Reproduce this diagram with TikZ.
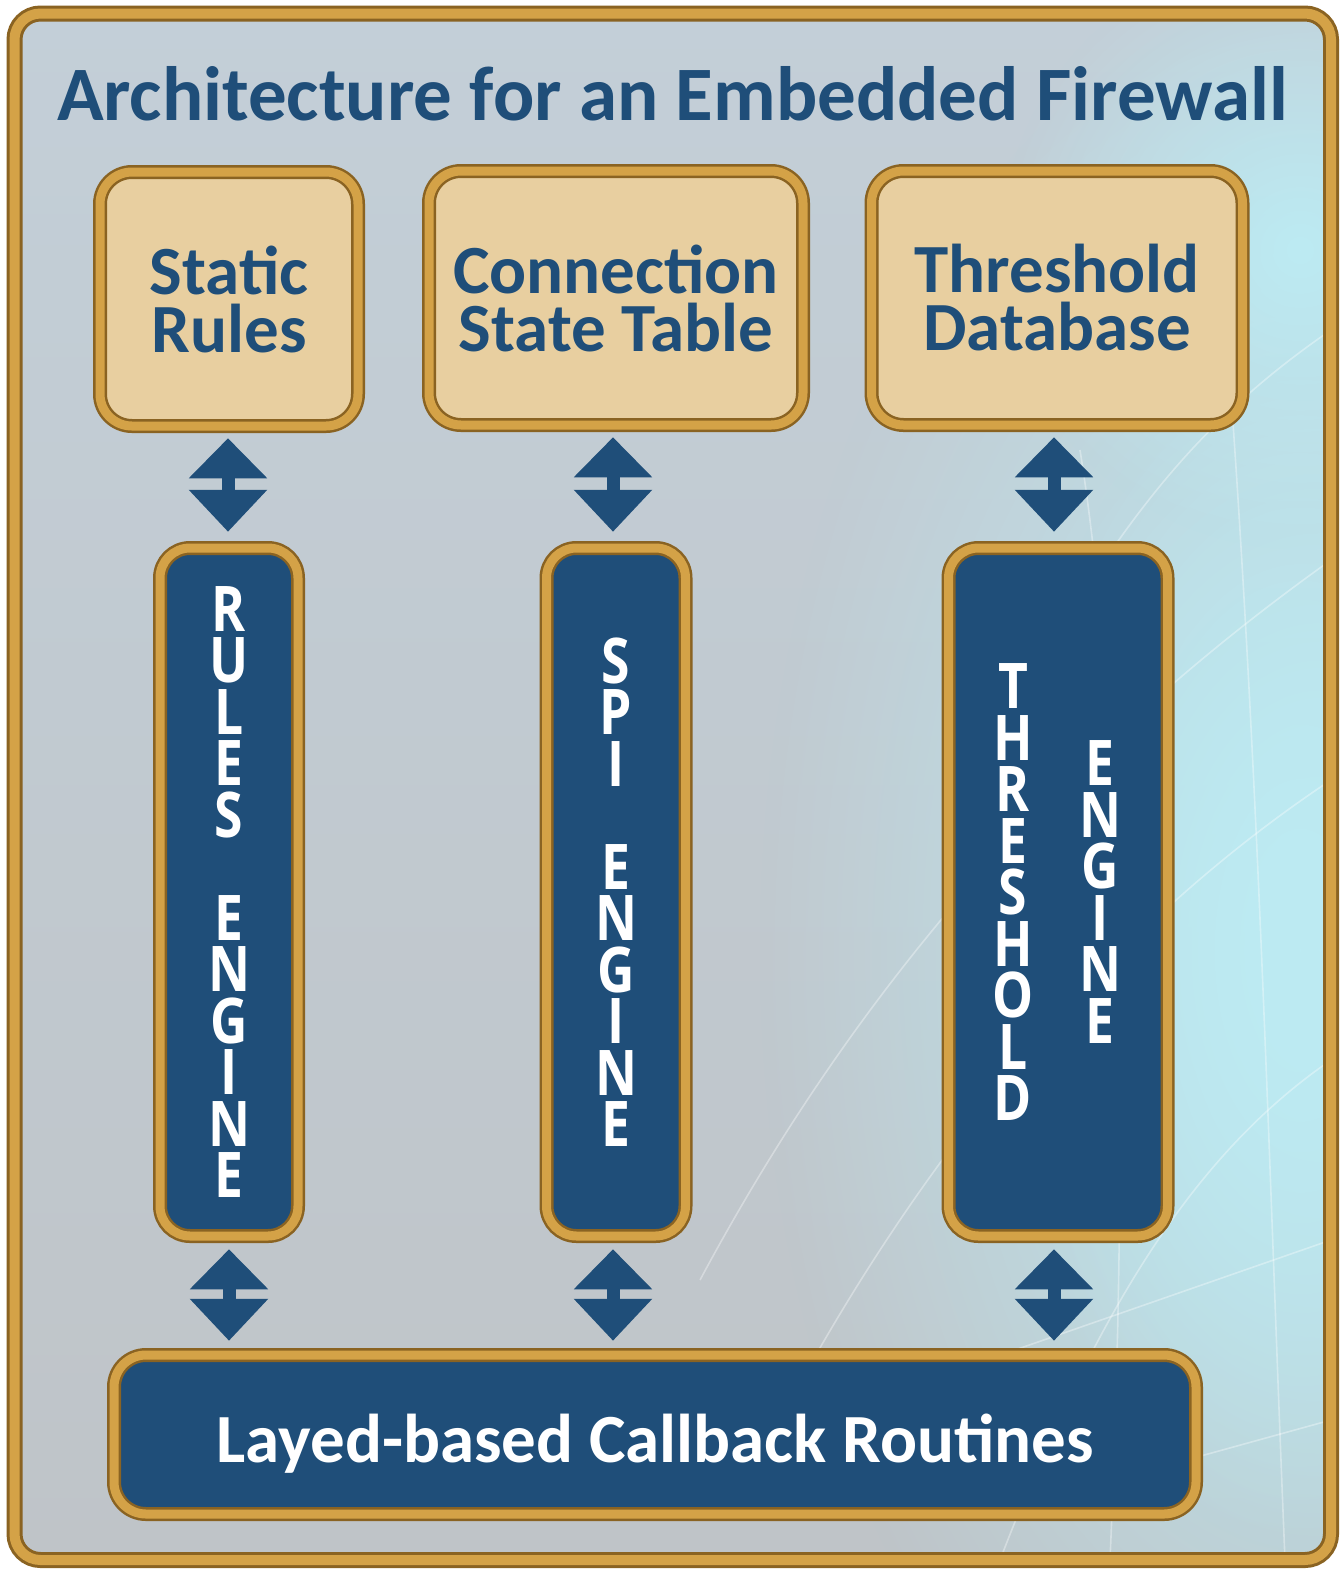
\documentclass[tikz,border=0pt]{standalone}
\usepackage{fontspec}
\setmainfont{Carlito}
\newfontfamily\vfont[FakeStretch=0.82]{Open Sans}
\usetikzlibrary{arrows.meta,fadings}
\definecolor{navy}{HTML}{1F4E79}
\definecolor{tanfill}{HTML}{E8CFA0}
\definecolor{goldL}{HTML}{D4A247}
\definecolor{goldD}{HTML}{8A6322}
\definecolor{bgT}{HTML}{C3CFD8}
\definecolor{bgB}{HTML}{BFC4C8}
\definecolor{bgC}{HTML}{BCEBF3}
\tikzfading[name=softglow, inner color=transparent!0, outer color=transparent!100]
\begin{document}
\begin{tikzpicture}[x=1pt,y=-1pt,
  goldedge/.style={draw=goldD, double=goldL, line width=2.5pt, double distance=9pt},
  tanbox/.style={goldedge, fill=tanfill, rounded corners=32pt, inner sep=0pt,
    text=navy, align=center, font=\fontsize{69}{58}\selectfont\bfseries},
  engine/.style={goldedge, fill=navy, rounded corners=30pt, inner sep=0pt},
  vtext/.style={text=white, align=center, inner sep=0pt,
    font=\vfont\fontsize{63}{51.5}\selectfont\bfseries},
  link/.style={navy, line width=13pt,
    arrows={Triangle[width=76pt,length=40pt]-Triangle[width=76pt,length=42pt]}},
  gridline/.style={white, opacity=0.35, line width=1.6pt}]
\useasboundingbox (0,0) rectangle (1343,1569);
\fill[white] (0,0) rectangle (1343,1569);
% background
\begin{scope}
  \clip[rounded corners=26pt] (14.5,13.5) rectangle (1331,1560);
  \shade[top color=bgT, bottom color=bgB] (0,0) rectangle (1343,1569);
  \fill[bgC, path fading=softglow] (1320,950) ellipse (560pt and 950pt);
  \fill[bgC, path fading=softglow] (1300,950) ellipse (300pt and 600pt);
  \fill[bgC, path fading=softglow] (1300,250) ellipse (300pt and 300pt);
  \draw[gridline] (700,1280) .. controls (850,1000) and (1050,760) .. (1331,560);
  \draw[gridline] (780,1420) .. controls (950,1100) and (1150,900) .. (1331,780);
  \draw[gridline] (1000,1560) .. controls (1100,1300) and (1200,1150) .. (1331,1060);
  \draw[gridline] (900,1390) -- (1331,1240);
  \draw[gridline] (1150,1470) -- (1331,1420);
  \draw[gridline] (1230,380) .. controls (1260,800) and (1270,1200) .. (1285,1560);
  \draw[gridline] (1080,450) .. controls (1120,700) and (1130,1100) .. (1110,1560);
  \draw[gridline] (1331,330) .. controls (1200,420) and (1120,520) .. (1020,700);
\end{scope}
% outer frame
\draw[draw=goldD, double=goldL, line width=3pt, double distance=10pt, rounded corners=26pt]
  (14.5,13.5) rectangle (1331,1560);
% title
\node[anchor=base, text=navy, inner sep=0pt, font=\fontsize{77}{80}\selectfont\bfseries]
  (title) at (672.5,120) {Architecture for an Embedded Firewall};
% top boxes
\node[tanbox, minimum width=258pt, minimum height=254pt] (sr) at (229,299) {Static\\Rules};
\node[tanbox, minimum width=374pt, minimum height=254pt] (cst) at (616,298) {Connection\\State Table};
\node[tanbox, minimum width=371pt, minimum height=254pt] (td) at (1057,298) {Threshold\\Database};
% engines
\node[engine, minimum width=138pt, minimum height=688pt] (re) at (229,892) {};
\node[engine, minimum width=139pt, minimum height=688pt] (spi) at (616,892) {};
\node[engine, minimum width=219pt, minimum height=688pt] (te) at (1058,892) {};
\node[vtext] (ret) at (re.center) {R\\U\\L\\E\\S\\[51.5pt]E\\N\\G\\I\\N\\E};
\node[vtext] (spit) at (spi.center) {S\\P\\I\\[51.5pt]E\\N\\G\\I\\N\\E};
\node[vtext] (tet1) at ([xshift=-45pt]te.center) {T\\H\\R\\E\\S\\H\\O\\L\\D};
\node[vtext] (tet2) at ([xshift=42pt]te.center) {E\\N\\G\\I\\N\\E};
% bottom box
\node[engine, rounded corners=32pt, minimum width=1082pt, minimum height=159pt,
  text=white, font=\fontsize{69}{80}\selectfont\bfseries, text height=55pt, text depth=0pt]
  (cb) at (655,1434.5) {Layed-based Callback Routines};
% connectors
\draw[link, shorten <=11pt, shorten >=15pt] ([xshift=-1pt]sr.south) -- ([xshift=-1pt]sr.south |- re.north);
\draw[link, shorten <=11pt, shorten >=15pt] ([xshift=-3pt]cst.south) -- ([xshift=-3pt]cst.south |- spi.north);
\draw[link, shorten <=11pt, shorten >=15pt] ([xshift=-3pt]td.south) -- ([xshift=-3pt]td.south |- te.north);
\draw[link, shorten <=12pt, shorten >=13pt] (re.south) -- (re.south |- cb.north);
\draw[link, shorten <=12pt, shorten >=13pt] ([xshift=-3pt]spi.south) -- ([xshift=-3pt]spi.south |- cb.north);
\draw[link, shorten <=12pt, shorten >=13pt] ([xshift=-4pt]te.south) -- ([xshift=-4pt]te.south |- cb.north);
\end{tikzpicture}
\end{document}
